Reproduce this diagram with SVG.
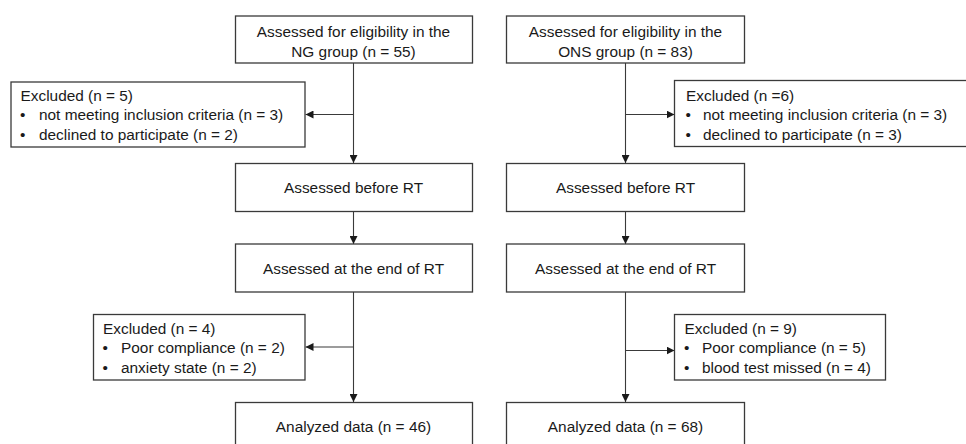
<svg xmlns="http://www.w3.org/2000/svg" width="966" height="444" viewBox="0 0 966 444">
<style>
.box{fill:#fff;stroke:#3a3a3a;stroke-width:1.3}
.t{font-family:"Liberation Sans",Arial,sans-serif;font-size:15.4px;fill:#1a1a1a}
.c{text-anchor:middle}
.ln{stroke:#3a3a3a;stroke-width:1.1;fill:none}
</style>
<defs>
<marker id="ah" viewBox="0 0 10 10" refX="10" refY="5" markerWidth="8" markerHeight="8" markerUnits="userSpaceOnUse" orient="auto">
<path d="M0,0 L10,5 L0,10 z" fill="#1a1a1a"/>
</marker>
</defs>
<rect width="966" height="444" fill="#fff"/>
<g id="connectors">
<path class="ln" d="M353.5,63 V163" marker-end="url(#ah)"/>
<path class="ln" d="M353.5,114.5 H305.5" marker-end="url(#ah)"/>
<path class="ln" d="M353.5,211 V244" marker-end="url(#ah)"/>
<path class="ln" d="M353.5,292 V402" marker-end="url(#ah)"/>
<path class="ln" d="M353.5,347 H305.5" marker-end="url(#ah)"/>
<path class="ln" d="M625.5,63 V163" marker-end="url(#ah)"/>
<path class="ln" d="M625.5,114.5 H674.5" marker-end="url(#ah)"/>
<path class="ln" d="M625.5,211 V244" marker-end="url(#ah)"/>
<path class="ln" d="M625.5,292 V402" marker-end="url(#ah)"/>
<path class="ln" d="M625.5,350.5 H674.5" marker-end="url(#ah)"/>
</g>
<g id="ng_elig">
<rect class="box" x="235.5" y="16" width="237" height="47"/>
<text class="t c" x="353.5" y="37">Assessed for eligibility in the</text>
<text class="t c" x="353.5" y="57">NG group (n = 55)</text>
</g>
<g id="ons_elig">
<rect class="box" x="506.5" y="16" width="238" height="47"/>
<text class="t c" x="625.5" y="37">Assessed for eligibility in the</text>
<text class="t c" x="625.5" y="57">ONS group (n = 83)</text>
</g>
<g id="ng_excl1">
<rect class="box" x="11" y="82" width="294" height="65"/>
<text class="t" x="20.5" y="101">Excluded (n = 5)</text>
<text class="t" x="20" y="120">•</text><text class="t" x="39" y="120">not meeting inclusion criteria (n = 3)</text>
<text class="t" x="20" y="139.5">•</text><text class="t" x="39" y="139.5">declined to participate (n = 2)</text>
</g>
<g id="ons_excl1">
<rect class="box" x="674.5" y="80.5" width="295" height="66"/>
<text class="t" x="686" y="101">Excluded (n =6)</text>
<text class="t" x="685.5" y="120">•</text><text class="t" x="703" y="120">not meeting inclusion criteria (n = 3)</text>
<text class="t" x="685.5" y="139.5">•</text><text class="t" x="703" y="139.5">declined to participate (n = 3)</text>
</g>
<g id="ng_before">
<rect class="box" x="235.5" y="163.5" width="237" height="48"/>
<text class="t c" x="353.5" y="193">Assessed before RT</text>
</g>
<g id="ons_before">
<rect class="box" x="506.5" y="163.5" width="238" height="48"/>
<text class="t c" x="625.5" y="193">Assessed before RT</text>
</g>
<g id="ng_end">
<rect class="box" x="235.5" y="244" width="237" height="48"/>
<text class="t c" x="353.5" y="274">Assessed at the end of RT</text>
</g>
<g id="ons_end">
<rect class="box" x="506.5" y="244" width="238" height="48"/>
<text class="t c" x="625.5" y="274">Assessed at the end of RT</text>
</g>
<g id="ng_excl2">
<rect class="box" x="93.5" y="314.5" width="211.5" height="65.5"/>
<text class="t" x="103" y="334">Excluded (n = 4)</text>
<text class="t" x="102.5" y="353">•</text><text class="t" x="121" y="353">Poor compliance (n = 2)</text>
<text class="t" x="102.5" y="372.5">•</text><text class="t" x="121" y="372.5">anxiety state (n = 2)</text>
</g>
<g id="ons_excl2">
<rect class="box" x="674.5" y="314.5" width="211" height="65.5"/>
<text class="t" x="684.5" y="334">Excluded (n = 9)</text>
<text class="t" x="684" y="353">•</text><text class="t" x="702" y="353">Poor compliance (n = 5)</text>
<text class="t" x="684" y="372.5">•</text><text class="t" x="702" y="372.5">blood test missed (n = 4)</text>
</g>
<g id="ng_analyzed">
<rect class="box" x="235.5" y="402.5" width="237" height="48"/>
<text class="t c" x="353.5" y="432">Analyzed data (n = 46)</text>
</g>
<g id="ons_analyzed">
<rect class="box" x="506.5" y="402.5" width="238" height="48"/>
<text class="t c" x="625.5" y="432">Analyzed data (n = 68)</text>
</g>
</svg>
